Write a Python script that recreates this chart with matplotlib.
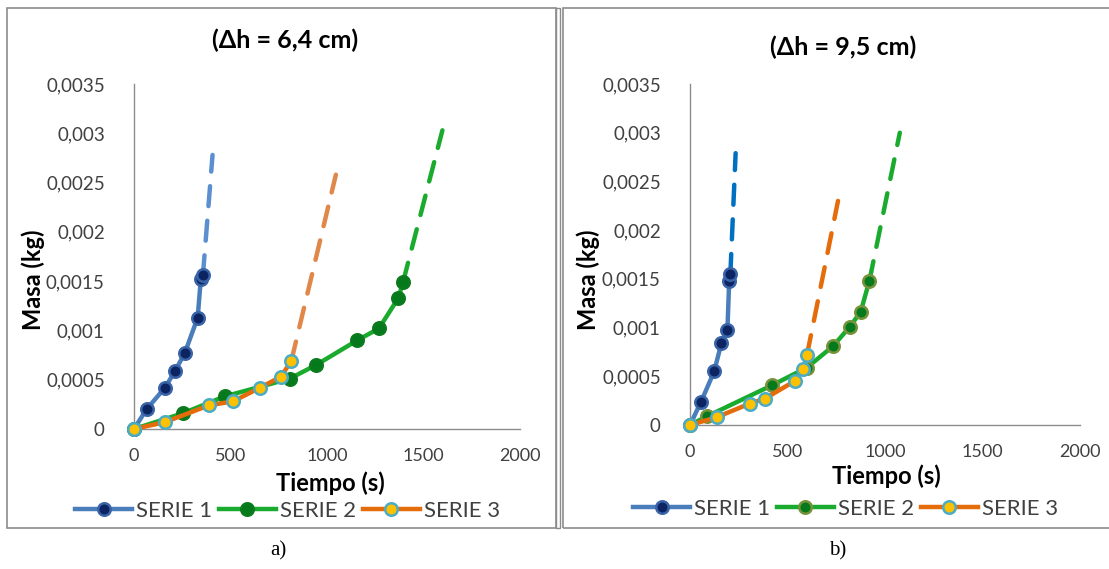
import matplotlib
matplotlib.use("Agg")
import matplotlib.pyplot as plt
from matplotlib.patches import Rectangle

plt.rcParams['font.family'] = ['Lato', 'DejaVu Sans']

# ---------------- data ----------------
# Panel a) (dh = 6,4 cm)
a_s1_t = [0, 65, 161, 213, 263, 330, 346, 357]
a_s1_m = [0, 0.00020, 0.00042, 0.00059, 0.00077, 0.00113, 0.00152, 0.00156]
a_s1_ext_t = [357, 407]
a_s1_ext_m = [0.00156, 0.00278]

a_s2_t = [0, 254, 469, 806, 944, 1157, 1269, 1370, 1394]
a_s2_m = [0, 0.00016, 0.00033, 0.00051, 0.00065, 0.00090, 0.00102, 0.00133, 0.00149]
a_s2_ext_t = [1394, 1598]
a_s2_ext_m = [0.00149, 0.00303]

a_s3_t = [0, 161, 389, 513, 654, 761, 815]
a_s3_m = [0, 0.00007, 0.00024, 0.00028, 0.00042, 0.00053, 0.00069]
a_s3_ext_t = [815, 1046]
a_s3_ext_m = [0.00069, 0.00258]

# Panel b) (dh = 9,5 cm)
b_s1_t = [0, 57, 124, 161, 192, 201, 207]
b_s1_m = [0, 0.00024, 0.00055, 0.00084, 0.00098, 0.00148, 0.00155]
b_s1_ext_t = [207, 234]
b_s1_ext_m = [0.00155, 0.00279]

b_s2_t = [0, 88, 423, 600, 734, 820, 875, 920]
b_s2_m = [0, 0.00009, 0.00041, 0.00059, 0.00081, 0.00101, 0.00116, 0.00148]
b_s2_ext_t = [920, 1076]
b_s2_ext_m = [0.00148, 0.00300]

b_s3_t = [0, 137, 307, 384, 536, 582, 600]
b_s3_m = [0, 0.00008, 0.00022, 0.00027, 0.00045, 0.00057, 0.00072]
b_s3_ext_t = [600, 759]
b_s3_ext_m = [0.00072, 0.00230]

titles = ["(\u0394h = 6,4 cm)", "(\u0394h = 9,5 cm)"]
panel_labels = ["a)", "b)"]
series_names = ["SERIE 1", "SERIE 2", "SERIE 3"]
x_ticks = [0, 500, 1000, 1500, 2000]
x_ticklabels = ["0", "500", "1000", "1500", "2000"]
y_ticks = [0, 0.0005, 0.001, 0.0015, 0.002, 0.0025, 0.003, 0.0035]
y_ticklabels = ["0", "0,0005", "0,001", "0,0015", "0,002", "0,0025", "0,003", "0,0035"]

# ---------------- styling ----------------
W, H = 1109, 569
fig = plt.figure(figsize=(W / 100, H / 100), dpi=100)
fig.patch.set_facecolor("white")

line_cols = ["#4a7ebb", "#1aab2e", "#e46c0a"]
mk_face = ["#0c2461", "#057a1c", "#ffc000"]
mk_edge_a = ["#3a64a8", "#0c7a1e", "#4bacc6"]
mk_edge_b = ["#3a64a8", "#77933c", "#4bacc6"]
dash_cols_a = ["#5b8fcf", "#1aab2e", "#e0884a"]
dash_cols_b = ["#0070c0", "#1aab2e", "#e46c0a"]

panels = [
    dict(rect=[134 / W, 1 - 429 / H, 386 / W, 345 / H],
         series=[(a_s1_t, a_s1_m, a_s1_ext_t, a_s1_ext_m),
                 (a_s2_t, a_s2_m, a_s2_ext_t, a_s2_ext_m),
                 (a_s3_t, a_s3_m, a_s3_ext_t, a_s3_ext_m)],
         edge=mk_edge_a, dash=dash_cols_a, cx=285, title_y=40,
         xlab_y=483, leg_y=511, ylab_x=33, lab_x=278),
    dict(rect=[690 / W, 1 - 425 / H, 390 / W, 341 / H],
         series=[(b_s1_t, b_s1_m, b_s1_ext_t, b_s1_ext_m),
                 (b_s2_t, b_s2_m, b_s2_ext_t, b_s2_ext_m),
                 (b_s3_t, b_s3_m, b_s3_ext_t, b_s3_ext_m)],
         edge=mk_edge_b, dash=dash_cols_b, cx=843, title_y=47,
         xlab_y=476, leg_y=509, ylab_x=588, lab_x=838),
]

# borders
fig.patches.append(Rectangle((7 / W, 1 - 528 / H), 549 / W, 520 / H, transform=fig.transFigure,
                             fill=False, edgecolor="#8c8c8c", lw=1.2))
fig.patches.append(Rectangle((556 / W, 1 - 528 / H), 4 / W, 520 / H, transform=fig.transFigure,
                             fill=False, edgecolor="#8c8c8c", lw=1.0))
fig.patches.append(Rectangle((563 / W, 1 - 528 / H), 560 / W, 520 / H, transform=fig.transFigure,
                             fill=False, edgecolor="#8c8c8c", lw=1.2))

for i, p in enumerate(panels):
    ax = fig.add_axes(p["rect"])
    ax.set_xlim(0, 2000)
    ax.set_ylim(0, 0.0035)
    for s in ["top", "right"]:
        ax.spines[s].set_visible(False)
    for s in ["left", "bottom"]:
        ax.spines[s].set_color("#8c8c8c")
        ax.spines[s].set_linewidth(1.0)
    ax.set_xticks(x_ticks)
    ax.set_xticklabels(x_ticklabels)
    ax.set_yticks(y_ticks)
    ax.set_yticklabels(y_ticklabels)
    ax.tick_params(axis="x", length=0, labelsize=13, labelcolor="#404040", pad=14)
    ax.tick_params(axis="y", length=0, labelsize=13.5, labelcolor="#404040", pad=21)
    ax.patch.set_alpha(0)

    handles = []
    for k, (t, m, et, em) in enumerate(p["series"]):
        ax.plot(et, em, color=p["dash"][k], lw=3.2, dashes=(4.5, 3.3),
                solid_capstyle="round", dash_capstyle="round", zorder=2 + k)
        h, = ax.plot(t, m, color=line_cols[k], lw=3.2, marker="o", markersize=9,
                     markerfacecolor=mk_face[k], markeredgecolor=p["edge"][k],
                     markeredgewidth=1.8, zorder=3 + k, clip_on=False)
        handles.append(h)

    fig.text(p["cx"] / W, 1 - p["title_y"] / H, titles[i], ha="center", va="center",
             fontsize=18, fontweight="bold", color="black")
    fig.text((p["rect"][0] * W + 196) / W, 1 - p["xlab_y"] / H, "Tiempo (s)", ha="center",
             va="center", fontsize=17, fontweight="bold", color="black")
    fig.text(p["ylab_x"] / W, 1 - 280 / H, "Masa (kg)", ha="center", va="center",
             rotation=90, fontsize=17, fontweight="bold", color="black")
    fig.legend(handles, series_names, loc="center", ncol=3, frameon=False,
               bbox_to_anchor=(p["cx"] / W + 0.002, 1 - p["leg_y"] / H),
               fontsize=16, handlelength=2.6, columnspacing=0.3, handletextpad=0.15,
               labelcolor="#404040", borderpad=0.1)
    fig.text(p["lab_x"] / W, 1 - 551 / H, panel_labels[i], ha="center", va="center",
             fontsize=15, family="Liberation Serif", color="black")

fig.savefig("out.png", dpi=100, facecolor="white")
